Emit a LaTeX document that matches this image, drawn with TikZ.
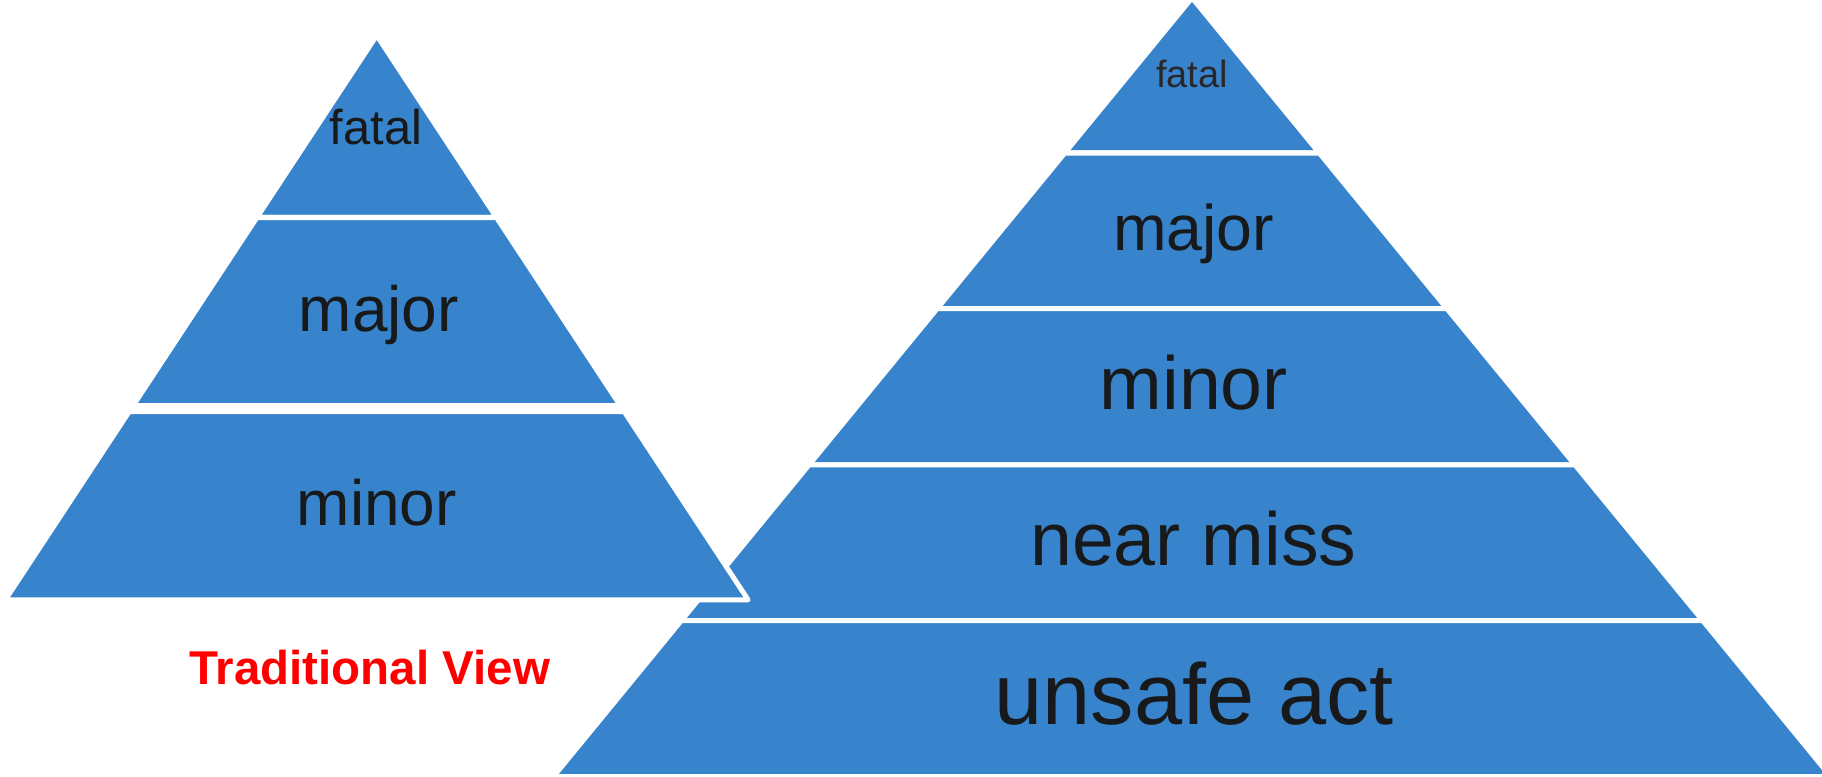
\documentclass[tikz,border=0pt]{standalone}
\usepackage{fontspec}
\setmainfont{Liberation Sans}
\definecolor{pyrblue}{RGB}{56,132,204}
\definecolor{labelink}{RGB}{23,25,26}
\definecolor{topink}{RGB}{40,40,42}
\begin{document}
\begin{tikzpicture}[x=0.01cm, y=-0.01cm,
    band/.style={fill=pyrblue, draw=white, line width=0.05cm, line join=round},
    level/.style={anchor=base, inner sep=0pt, text=labelink}]
    \useasboundingbox (0,0) rectangle (1822,776);
    \begin{scope}[]
    % Right pyramid, behind
    \foreach \yt/\yb in {-2.2/153, 153/308.5, 308.5/464.9, 464.9/620.7, 620.7/776.5}
    {
        \draw[band] ({1192-0.82*(\yt+2.2)},\yt) -- ({1192+0.82*(\yt+2.2)},\yt)
            -- ({1192+0.82*(\yb+2.2)},\yb) -- ({1192-0.82*(\yb+2.2)},\yb) -- cycle;
    }
    \node (rfatal) at (1192, 87.3) [level, text=topink, font=\fontsize{10.8pt}{12pt}\selectfont] {fatal};
    \node (rmajor) at (1193.7, 250.7) [level, font=\fontsize{18.3pt}{20pt}\selectfont] {major};
    \node (rminor) at (1193.8, 409.3) [level, font=\fontsize{21.4pt}{24pt}\selectfont] {minor};
    \node (rnear) at (1193.3, 565.3) [level, font=\fontsize{21.4pt}{24pt}\selectfont] {near miss};
    \node (runsafe) at (1194.2, 724) [level, font=\fontsize{24.6pt}{28pt}\selectfont] {unsafe act};

    % Left pyramid, in front
    \foreach \yt/\yb in {35.4/217.5, 217.5/405.5, 411.5/599.8}
    {
        \draw[band] ({376.7-0.658*(\yt-35.4)},\yt) -- ({376.7+0.658*(\yt-35.4)},\yt)
            -- ({376.7+0.658*(\yb-35.4)},\yb) -- ({376.7-0.658*(\yb-35.4)},\yb) -- cycle;
    }
    \node (lfatal) at (375.9, 144) [level, font=\fontsize{13.9pt}{16pt}\selectfont] {fatal};
    \node (lmajor) at (378.7, 331.7) [level, font=\fontsize{18.2pt}{20pt}\selectfont] {major};
    \node (lminor) at (376.7, 525.7) [level, font=\fontsize{18.2pt}{20pt}\selectfont] {minor};

    % Caption
    \node (tradview) at (369.7, 684.3) [anchor=base, inner sep=0pt, text=red,
        font=\bfseries\fontsize{13.5pt}{16pt}\selectfont] {Traditional View};
    \end{scope}
\end{tikzpicture}
\end{document}
